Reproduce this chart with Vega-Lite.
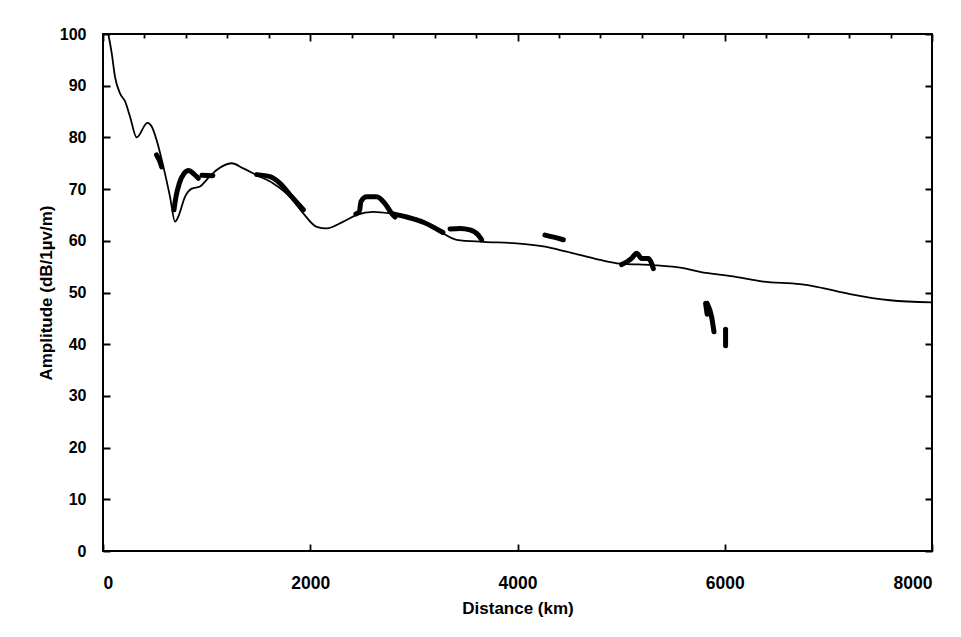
{
  "$schema": "https://vega.github.io/schema/vega-lite/v6.json",
  "width": 829,
  "height": 517,
  "autosize": {"type": "none"},
  "padding": {"left": 103, "top": 34, "right": 29, "bottom": 86},
  "background": "white",
  "config": {
    "view": {"stroke": "#000", "strokeWidth": 2},
    "axis": {
      "domain": false,
      "labelFont": "Liberation Sans",
      "labelFontWeight": "bold",
      "labelFontSize": 16,
      "labelColor": "#000",
      "titleFont": "Liberation Sans",
      "titleFontWeight": "bold",
      "titleFontSize": 17,
      "titleColor": "#000"
    }
  },
  "layer": [
    {
      "data": {"values": [
        {"d": 51, "a": 100}, {"d": 84, "a": 96.3}, {"d": 116, "a": 91.7},
        {"d": 164, "a": 88.5}, {"d": 212, "a": 87}, {"d": 261, "a": 84}, {"d": 325, "a": 80.0},
        {"d": 428, "a": 82.8}, {"d": 470, "a": 82.1}, {"d": 517, "a": 79.5}, {"d": 582, "a": 74.4},
        {"d": 647, "a": 68.5}, {"d": 695, "a": 63.7}, {"d": 727, "a": 64.7}, {"d": 791, "a": 68.5},
        {"d": 856, "a": 70.1}, {"d": 936, "a": 70.5}, {"d": 1000, "a": 71.8}, {"d": 1097, "a": 73.7},
        {"d": 1242, "a": 75.0}, {"d": 1354, "a": 74.0}, {"d": 1483, "a": 72.7}, {"d": 1643, "a": 71.1},
        {"d": 1805, "a": 68.5}, {"d": 1933, "a": 65.3}, {"d": 2062, "a": 62.7}, {"d": 2158, "a": 62.4},
        {"d": 2319, "a": 63.7}, {"d": 2448, "a": 65.0}, {"d": 2608, "a": 65.6}, {"d": 2770, "a": 65.3},
        {"d": 2931, "a": 64.7}, {"d": 3091, "a": 63.7}, {"d": 3252, "a": 61.8}, {"d": 3413, "a": 60.2},
        {"d": 3670, "a": 59.8}, {"d": 3992, "a": 59.5}, {"d": 4249, "a": 58.9}, {"d": 4474, "a": 57.9},
        {"d": 4796, "a": 56.3}, {"d": 4989, "a": 55.6}, {"d": 5311, "a": 55.3}, {"d": 5600, "a": 54.7},
        {"d": 5761, "a": 54.0}, {"d": 6083, "a": 53.1}, {"d": 6372, "a": 52.1}, {"d": 6726, "a": 51.6},
        {"d": 6887, "a": 51.1}, {"d": 7209, "a": 49.7}, {"d": 7595, "a": 48.5}, {"d": 8000, "a": 48.1}
      ]},
      "mark": {"type": "line", "interpolate": "monotone", "color": "#000", "strokeWidth": 1.8},
      "encoding": {
        "x": {
          "field": "d", "type": "quantitative",
          "scale": {"domain": [0, 8000], "nice": false},
          "axis": {
            "orient": "bottom",
            "values": [0, 200, 400, 600, 800, 1000, 1200, 1400, 1600, 1800, 2000, 2200, 2400, 2600, 2800, 3000, 3200, 3400, 3600, 3800, 4000, 4200, 4400, 4600, 4800, 5000, 5200, 5400, 5600, 5800, 6000, 6200, 6400, 6600, 6800, 7000, 7200, 7400, 7600, 7800, 8000],
            "ticks": false,
            "tickSize": 0,
            "grid": true,
            "gridColor": "#000",
            "gridWidth": 1.8,
            "gridOpacity": 1,
            "gridDash": {"condition": {"test": "datum.value % 1000 === 0", "value": [7, 503, 7, 0]}, "value": [4, 600]},
            "labelExpr": "datum.value % 1000 === 0 ? datum.label : ''",
            "format": "d",
            "labelFontSize": 17.5,
            "labelPadding": 23,
            "title": "Distance  (km)",
            "titlePadding": 9,
            "titleFontSize": 17
          }
        },
        "y": {
          "field": "a", "type": "quantitative",
          "scale": {"domain": [0, 100], "nice": false},
          "axis": {
            "orient": "left",
            "values": [0, 10, 20, 30, 40, 50, 60, 70, 80, 90, 100],
            "ticks": false,
            "tickSize": 0,
            "grid": true,
            "gridColor": "#000",
            "gridWidth": 1.8,
            "gridOpacity": 1,
            "gridDash": [7, 815, 7, 0],
            "labelPadding": 17,
            "title": "Amplitude  (dB/1µv/m)"
          }
        }
      }
    },
    {
      "data": {"values": [
        {"seg": "s1", "i": 1, "d": 517, "a": 76.6}, {"seg": "s1", "i": 2, "d": 545, "a": 75.5}, {"seg": "s1", "i": 3, "d": 566, "a": 74.3},
        {"seg": "s2", "i": 1, "d": 685, "a": 66.0}, {"seg": "s2", "i": 2, "d": 704, "a": 68.5}, {"seg": "s2", "i": 3, "d": 736, "a": 71.1},
        {"seg": "s2", "i": 4, "d": 782, "a": 73.0}, {"seg": "s2", "i": 5, "d": 827, "a": 73.6}, {"seg": "s2", "i": 6, "d": 878, "a": 72.9},
        {"seg": "s2", "i": 7, "d": 920, "a": 72.1},
        {"seg": "s3", "i": 1, "d": 955, "a": 72.7}, {"seg": "s3", "i": 2, "d": 1060, "a": 72.6},
        {"seg": "s4", "i": 1, "d": 1483, "a": 72.8}, {"seg": "s4", "i": 2, "d": 1612, "a": 72.4}, {"seg": "s4", "i": 3, "d": 1708, "a": 71.1},
        {"seg": "s4", "i": 4, "d": 1805, "a": 68.9}, {"seg": "s4", "i": 5, "d": 1933, "a": 66.0},
        {"seg": "s5", "i": 1, "d": 2440, "a": 65.2}, {"seg": "s5", "i": 2, "d": 2470, "a": 65.5},
        {"seg": "s6", "i": 1, "d": 2478, "a": 66.0}, {"seg": "s6", "i": 2, "d": 2490, "a": 67.6}, {"seg": "s6", "i": 3, "d": 2544, "a": 68.5},
        {"seg": "s6", "i": 4, "d": 2641, "a": 68.5}, {"seg": "s6", "i": 5, "d": 2721, "a": 67.2}, {"seg": "s6", "i": 6, "d": 2786, "a": 65.3},
        {"seg": "s6", "i": 7, "d": 2818, "a": 64.6},
        {"seg": "s7", "i": 1, "d": 2800, "a": 65.2}, {"seg": "s7", "i": 2, "d": 2931, "a": 64.6}, {"seg": "s7", "i": 3, "d": 3091, "a": 63.6},
        {"seg": "s7", "i": 4, "d": 3280, "a": 61.6},
        {"seg": "s8", "i": 1, "d": 3349, "a": 62.3}, {"seg": "s8", "i": 2, "d": 3445, "a": 62.4}, {"seg": "s8", "i": 3, "d": 3541, "a": 62.1},
        {"seg": "s8", "i": 4, "d": 3622, "a": 61.1}, {"seg": "s8", "i": 5, "d": 3654, "a": 60.2},
        {"seg": "s9", "i": 1, "d": 4265, "a": 61.1}, {"seg": "s9", "i": 2, "d": 4350, "a": 60.7}, {"seg": "s9", "i": 3, "d": 4442, "a": 60.2},
        {"seg": "s10", "i": 1, "d": 5005, "a": 55.4}, {"seg": "s10", "i": 2, "d": 5060, "a": 56.0}, {"seg": "s10", "i": 3, "d": 5101, "a": 56.6},
        {"seg": "s10", "i": 4, "d": 5150, "a": 57.6}, {"seg": "s10", "i": 5, "d": 5198, "a": 56.6}, {"seg": "s10", "i": 6, "d": 5262, "a": 56.6},
        {"seg": "s10", "i": 7, "d": 5311, "a": 54.6},
        {"seg": "s11", "i": 1, "d": 5830, "a": 47.9}, {"seg": "s11", "i": 2, "d": 5873, "a": 45.3}, {"seg": "s11", "i": 3, "d": 5896, "a": 42.4},
        {"seg": "s12", "i": 1, "d": 5815, "a": 47.9}, {"seg": "s12", "i": 2, "d": 5830, "a": 45.8},
        {"seg": "s13", "i": 1, "d": 6008, "a": 42.9}, {"seg": "s13", "i": 2, "d": 6008, "a": 39.7}
      ]},
      "mark": {"type": "line", "interpolate": "monotone", "color": "#000", "strokeWidth": 5, "strokeCap": "round", "strokeJoin": "round"},
      "encoding": {
        "x": {"field": "d", "type": "quantitative"},
        "y": {"field": "a", "type": "quantitative"},
        "detail": {"field": "seg"},
        "order": {"field": "i"}
      }
    }
  ]
}
